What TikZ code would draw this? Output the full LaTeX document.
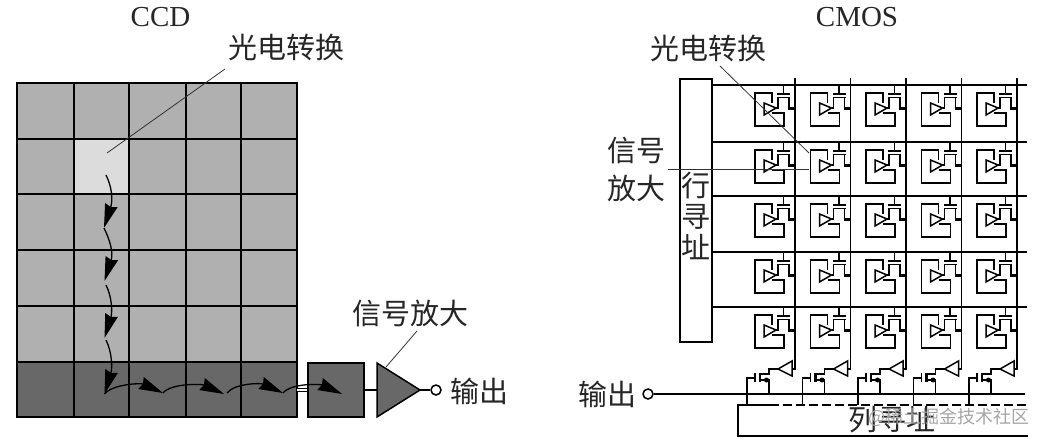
\documentclass[tikz,border=0pt]{standalone}
\usepackage{fontspec}
\setmainfont{Liberation Serif}
\newfontfamily\cjk{Noto Sans CJK SC}
\usetikzlibrary{arrows.meta}
\definecolor{cellgray}{HTML}{B0B0B0}
\definecolor{litgray}{HTML}{DCDCDC}
\definecolor{darkgray}{HTML}{686868}
\definecolor{markgray}{HTML}{A6A6A6}
\tikzset{
  wire/.style={line width=1.5pt, black},
  leader/.style={line width=0.8pt, black!80},
  hop/.style={line width=1.3pt, arrows={-{Stealth[length=24pt, width=13pt, inset=2pt]}}},
  zh/.style={font=\cjk\fontsize{29}{29}\selectfont, inner sep=0pt, text=black!85},
  en/.style={font=\fontsize{29}{29}\selectfont, inner sep=0pt, text=black!85},
  pics/photosite/.style={code={
    \draw [wire] (-23,18) -- (-23,8) -- (-40,8) -- (-40,41) -- (-11,41) -- (-11,28) -- (-23,28);
    \draw [wire] (-31,18) -- (-31,30) -- (-19,23) -- cycle;
    \draw [wire] (-19,23) -- (-17,23) -- (-17,12);
    \draw [wire] (-11.5,0) -- (-11.5,9);
    \draw [wire] (-18,9) -- (-5,9);
    \draw [wire] (-18,12.5) -- (-5,12.5);
    \draw [wire] (-6,12.5) -- (-6,23);
    \draw [line width=3pt] (-7,23) -- (0,23);
  }},
  pics/readout/.style={code={
    \draw [wire] (0,11) -- (0,-16) -- (8,-16);
    \draw [wire] (8,-21) -- (8,-12);
    \draw [line width=2.2pt] (13,-21) -- (13,-12);
    \draw [wire] (13,-20) -- (22,-20) -- (22,-25) -- (31,-25);
    \draw [wire] (31,-25) -- (45,-33) -- (45,-18) -- cycle;
    \draw [wire] (13,-14) -- (22,-14) -- (22,0);
    \fill (19.5,-14) circle [radius=2.5pt];
  }}
}

\begin{document}
\begin{tikzpicture}[x=1pt, y=-1pt]
\useasboundingbox (0,0) rectangle (1043,444);

% CCD
\node (ccdtitle) [en] at (160.5,17) {CCD};
\foreach \cx/\ex in {17/74, 74/129, 129/186, 186/241, 241/297} {
  \foreach \cy/\ey in {83/139, 139/194, 194/250, 250/306, 306/362} {
    \draw [wire, fill=cellgray] (\cx,\cy) rectangle (\ex,\ey);
  }
  \draw [wire, fill=darkgray] (\cx,362) rectangle (\ex,417);
}
\draw [wire, fill=litgray] (74,139) rectangle (129,194);

\node (ccdlabel) [zh] at (286,47) {光电转换};
\coordinate (ccdspot) at (107,153);
\draw [leader] (ccdspot) -- (225,69);

\node (shift) [wire, draw, fill=darkgray, minimum width=56pt, minimum height=54pt, inner sep=0pt] at (336,390) {};
\draw [wire, double distance=2.5pt, line width=1pt] (297,390) -- (shift.west);

\node (amplabel) [zh] at (410,313) {信号放大};
\coordinate (ampa) at (377,363);
\coordinate (ampb) at (377,417);
\coordinate (ampc) at (420,390);
\draw [wire, fill=darkgray] (ampa) -- (ampb) -- (ampc) -- cycle;
\draw [wire] (shift.east) -- (377,390);
\draw [leader] (417,331) -- (386,367);
\node (ccdpin) [wire, draw, circle, fill=white, minimum size=10pt, inner sep=0pt] at (436,390) {};
\draw [wire] (ampc) -- (ccdpin);
\node (ccdout) [zh] at (479,391) {输出};

\coordinate (w0) at (106,175);
\coordinate (w1) at (104,228);
\coordinate (w2) at (104.5,281);
\coordinate (w3) at (104.5,338);
\coordinate (w4) at (104.5,394);
\coordinate (s1) at (106,285);
\coordinate (s2) at (106,340);
\draw [hop] (w0) .. controls +(6,12) and +(9,-28) .. (w1);
\draw [hop] (w1) .. controls +(6,12) and +(9,-28) .. (w2);
\draw [hop] (s1) .. controls +(6,12) and +(8,-26) .. (w3);
\draw [hop] (s2) .. controls +(6,12) and +(8,-26) .. (w4);

\coordinate (h1) at (163,393);
\coordinate (h2) at (224,394);
\coordinate (h3) at (283,393);
\coordinate (h4) at (342,394);
\draw [hop] (w4) .. controls +(8,-10) and +(-22,-10) .. (h1);
\draw [hop] (h1) .. controls +(8,-10) and +(-22,-10) .. (h2);
\draw [hop] (227,393) .. controls +(8,-10) and +(-22,-10) .. (h3);
\draw [hop] (h3) .. controls +(8,-10) and +(-22,-10) .. (h4);

% CMOS
\node (cmostitle) [en] at (857,17) {CMOS};
\node (rowbox) [wire, draw, fill=white, minimum width=32pt, minimum height=263pt, inner sep=0pt] at (696,210.5) {};
\node (rowa) [zh] at (696,186) {行};
\node (rowb) [zh] at (696,217) {寻};
\node (rowc) [zh] at (696,247) {址};

\foreach \ry in {85, 142, 196, 252, 307} {
  \draw [wire] (712,\ry) -- (1027,\ry);
}
\foreach \cx in {795, 850.5, 906, 961.5, 1017} {
  \draw [wire] (\cx,78) -- (\cx,369) -- ++(-3,0);
  \foreach \ry in {85, 142, 196, 252, 307} {
    \pic at (\cx,\ry) {photosite};
  }
  \pic at (\cx-48,394) {readout};
}

\node (celllabel) [zh] at (708,48) {光电转换};
\coordinate (cellspot) at (809,153);
\draw [leader] (720,66) -- (cellspot);

\node (sigtop) [zh] at (636,151) {信号};
\node (sigbot) [zh] at (636,188) {放大};
\coordinate (sigspot) at (809,169);
\draw [leader] (668,169) -- (sigspot);

\node (cmosout) [zh] at (607,394) {输出};
\node (cmospin) [wire, draw, circle, fill=white, minimum size=10pt, inner sep=0pt] at (648,394) {};
\draw [wire] (cmospin) -- (1025,394);

\draw [wire] (770,405) -- (738,405) -- (738,436) -- (1028,436);
\draw [wire, dash pattern=on 9pt off 4pt] (770,405) -- (1028,405);
\node (collabel) [zh] at (892,420) {列寻址};
\node (mark) [font=\cjk\fontsize{18}{18}\selectfont, text=markgray, inner sep=0pt] at (949,417) {@稀土掘金技术社区};
\end{tikzpicture}
\end{document}
